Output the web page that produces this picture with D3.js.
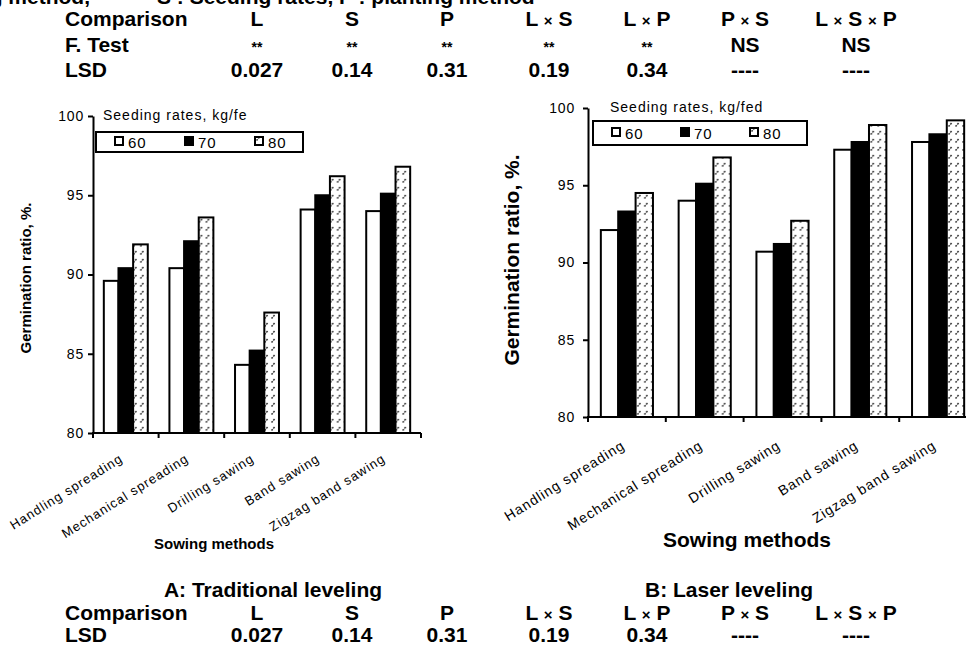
<!DOCTYPE html>
<html>
<head>
<meta charset="utf-8">
<script src="https://cdn.jsdelivr.net/npm/d3@7"></script>
<style>
	body { margin: 0; background: #fff; }
	svg { display: block; font-family: "Liberation Sans", Arial, sans-serif; }
	.axis path, .axis line { stroke: #000; stroke-width: 2; }
	.axis text { fill: #000; }
</style>
</head>
<body>
<svg width="966" height="645"></svg>
<script>
// sowing methods (categories)
var methods = ["Handling spreading", "Mechanical spreading", "Drilling sawing", "Band sawing", "Zigzag band sawing"];
var rates = ["60", "70", "80"];

// A: traditional leveling, germination ratio %
var trad60 = [89.6, 90.4, 84.3, 94.1, 94.0];
var trad70 = [90.4, 92.1, 85.2, 95.0, 95.1];
var trad80 = [91.9, 93.6, 87.6, 96.2, 96.8];

// B: laser leveling, germination ratio %
var laser60 = [92.1, 94.0, 90.7, 97.3, 97.8];
var laser70 = [93.3, 95.1, 91.2, 97.8, 98.3];
var laser80 = [94.5, 96.8, 92.7, 98.9, 99.2];

var yTicks = [80, 85, 90, 95, 100];

// statistics table
var comparisons = ["L", "S", "P", "L × S", "L × P", "P × S", "L × S × P"];
var fTest = ["**", "**", "**", "**", "**", "NS", "NS"];
var lsd = ["0.027", "0.14", "0.31", "0.19", "0.34", "----", "----"];

var svg = d3.select("svg");

// hatch pattern for the 80 kg series
var pat = svg.append("defs").append("pattern")
	.attr("id", "hatch")
	.attr("patternUnits", "userSpaceOnUse")
	.attr("width", 7)
	.attr("height", 8);
pat.append("rect").attr("width", 7).attr("height", 8).attr("fill", "#fff");
pat.append("path")
	.attr("d", "M1.5,6.5 L5,2.5")
	.attr("stroke", "#333")
	.attr("stroke-width", 1.5)
	.attr("stroke-dasharray", "1.8,1");

var fills = ["#fff", "#000", "url(#hatch)"];

function buildChart(o) {
	var g = svg.append("g");
	var series = o.series;

	var x = d3.scaleBand().domain(methods).range([o.x0, o.x1]).paddingInner(0.33).paddingOuter(0.165);
	var xs = d3.scaleBand().domain(rates).range([0, x.bandwidth()]);
	var y = d3.scaleLinear().domain([80, 100]).range([o.y0, o.y1]);

	// bars
	var groups = g.selectAll("g.grp")
		.data(methods)
		.enter().append("g")
		.attr("class", "grp")
		.attr("transform", function(d) { return "translate(" + x(d) + ",0)"; });

	groups.selectAll("rect")
		.data(function(d, i) { return series.map(function(s, k) { return { rate: rates[k], value: s[i], k: k }; }); })
		.enter().append("rect")
		.attr("x", function(d) { return xs(d.rate); })
		.attr("y", function(d) { return y(d.value); })
		.attr("width", xs.bandwidth())
		.attr("height", function(d) { return y(80) - y(d.value); })
		.attr("fill", function(d) { return fills[d.k]; })
		.attr("stroke", "#000")
		.attr("stroke-width", 2);

	// y axis
	var ya = g.append("g")
		.attr("class", "axis")
		.attr("transform", "translate(" + o.x0 + ",0)")
		.call(d3.axisLeft(y).tickValues(yTicks).tickSize(5).tickPadding(o.tickPad).tickSizeOuter(0));
	ya.selectAll("text").style("font-size", "14px").style("letter-spacing", "0.8px");

	// x axis with ticks between categories
	var xa = g.append("g").attr("class", "axis");
	xa.append("line")
		.attr("x1", o.x0 - 1).attr("x2", o.x0 + x.step() * methods.length)
		.attr("y1", y(80)).attr("y2", y(80));
	xa.selectAll("line.tk")
		.data(d3.range(methods.length + 1))
		.enter().append("line")
		.attr("class", "tk")
		.attr("x1", function(i) { return x.range()[0] + i * x.step(); })
		.attr("x2", function(i) { return x.range()[0] + i * x.step(); })
		.attr("y1", y(80)).attr("y2", y(80) + 5);

	g.selectAll("text.cat")
		.data(methods)
		.enter().append("text")
		.attr("class", "cat")
		.attr("text-anchor", "end")
		.attr("transform", function(d) {
			return "translate(" + (x(d) + x.bandwidth() / 2 + o.catDx) + "," + (y(80) + o.catDy) + ") rotate(-32)";
		})
		.style("font-size", o.catSize + "px")
		.style("letter-spacing", "1px")
		.text(function(d) { return d; });

	// axis titles
	g.append("text")
		.attr("text-anchor", "middle")
		.attr("transform", "translate(" + o.yTitleX + "," + o.yTitleY + ") rotate(-90)")
		.style("font-size", o.titleSize + "px")
		.style("font-weight", "bold")
		.text("Germination ratio, %.");

	g.append("text")
		.attr("text-anchor", "middle")
		.attr("x", o.xTitleX).attr("y", o.xTitleY)
		.style("font-size", o.titleSize + "px")
		.style("font-weight", "bold")
		.text("Sowing methods");

	// legend
	var lg = o.legend;
	g.append("text")
		.attr("x", lg.titleX).attr("y", lg.titleY)
		.style("font-size", "14px")
		.style("letter-spacing", "1px")
		.text(lg.title);
	g.append("rect")
		.attr("x", lg.x).attr("y", lg.y)
		.attr("width", lg.w).attr("height", lg.h)
		.attr("fill", "#fff").attr("stroke", "#000").attr("stroke-width", 2);
	var items = g.selectAll("g.li")
		.data(rates)
		.enter().append("g")
		.attr("class", "li")
		.attr("transform", function(d, i) { return "translate(" + (lg.itemX + i * lg.step) + "," + (lg.y + lg.h / 2) + ")"; });
	items.append("rect")
		.attr("x", 0).attr("y", -5)
		.attr("width", 8).attr("height", 8)
		.attr("fill", function(d, i) { return fills[i]; })
		.attr("stroke", "#000").attr("stroke-width", 2);
	items.append("text")
		.attr("x", 13).attr("y", 6)
		.style("font-size", "15px")
		.style("letter-spacing", "1px")
		.text(function(d) { return d; });
}

buildChart({
	series: [trad60, trad70, trad80],
	x0: 93, x1: 421, y0: 433, y1: 116, tickPad: 4,
	catDx: -2, catDy: 28, catSize: 13,
	yTitleX: 31, yTitleY: 278, xTitleX: 214, xTitleY: 549, titleSize: 15,
	legend: { title: "Seeding rates, kg/fe", titleX: 103, titleY: 120, x: 96, y: 132, w: 207, h: 20, itemX: 115, step: 70 }
});

buildChart({
	series: [laser60, laser70, laser80],
	x0: 588, x1: 977, y0: 417, y1: 108, tickPad: 8,
	catDx: -1, catDy: 31, catSize: 14,
	yTitleX: 519, yTitleY: 260, xTitleX: 747, xTitleY: 547, titleSize: 21,
	legend: { title: "Seeding rates, kg/fed", titleX: 610, titleY: 112, x: 593, y: 121, w: 214, h: 24, itemX: 612, step: 69 }
});

// statistics tables
var colX = [257, 352, 447, 549, 647, 745, 856];

function row(label, cells, yb) {
	var r = svg.append("g").style("font-weight", "bold").style("font-size", "21px");
	r.append("text").attr("x", 65).attr("y", yb).text(label);
	r.selectAll("text.c")
		.data(cells)
		.enter().append("text")
		.attr("class", "c")
		.attr("text-anchor", "middle")
		.attr("x", function(d, i) { return colX[i]; })
		.attr("y", yb)
		.style("font-size", function(d) { return d === "**" ? "14px" : null; })
		.each(function(d) {
			// smaller multiplication sign
			var t = d3.select(this), parts = d.split("×");
			parts.forEach(function(p, k) {
				if (k > 0) t.append("tspan").style("font-size", "15px").text("×");
				t.append("tspan").text(p);
			});
		});
}

// header line, cut at the top edge as in the source figure
var hd = svg.append("g").style("font-weight", "bold").style("font-size", "21px");
hd.append("text").attr("x", 90).attr("y", 4).attr("text-anchor", "end").text("L : Leveling method,");
hd.append("text").attr("x", 157).attr("y", 4).text("S : Seeding rates, P : planting method");

row("Comparison", comparisons, 26);
row("F. Test", fTest, 52);
row("LSD", lsd, 77);

svg.append("text").attr("x", 273).attr("y", 597).attr("text-anchor", "middle")
	.style("font-weight", "bold").style("font-size", "21px").text("A: Traditional leveling");
svg.append("text").attr("x", 729).attr("y", 597).attr("text-anchor", "middle")
	.style("font-weight", "bold").style("font-size", "21px").text("B: Laser leveling");

row("Comparison", comparisons, 620);
row("LSD", lsd, 642);
</script>
</body>
</html>
